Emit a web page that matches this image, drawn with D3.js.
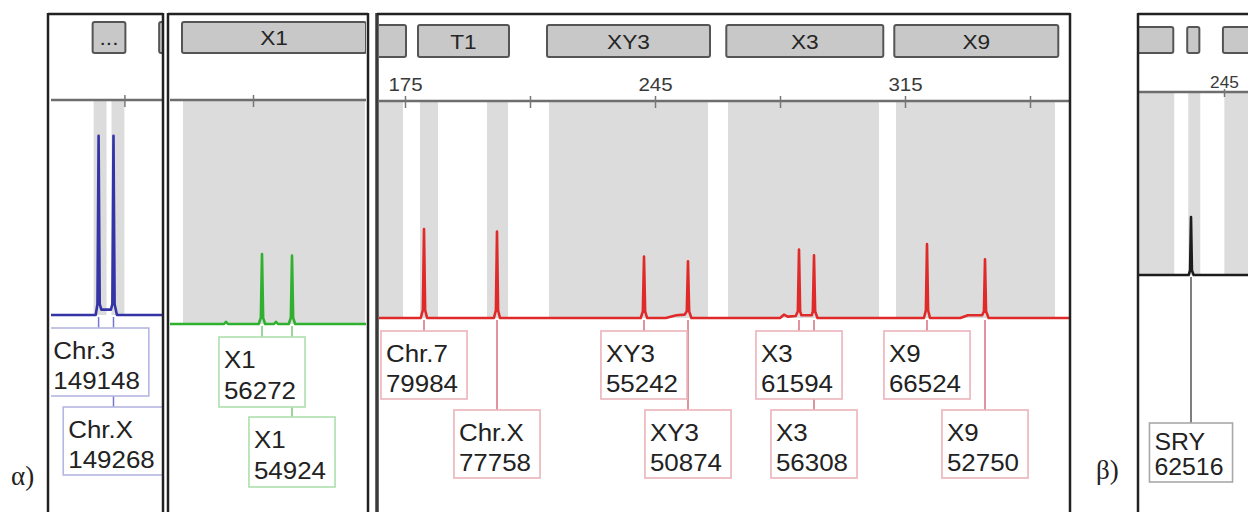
<!DOCTYPE html>
<html><head><meta charset="utf-8">
<script src="https://cdn.jsdelivr.net/npm/d3@7/dist/d3.min.js"></script>
<style>html,body{margin:0;padding:0;background:#fff}svg{display:block}</style>
</head><body>
<svg id="c" width="1248" height="512"></svg>
<script>
// ================= DATA =================
// x domains (bp) visible in each panel
const blueDomain  = [119.3, 150.6];
const greenDomain = [116.76, 171.64];
const redDomain   = [167.72, 360.92];
const blackDomain = [221.2, 251.72];

// y maxima (RFU) of each panel's plot area
const blueYMax = 179000, greenYMax = 180000, redYMax = 195000, blackYMax = 197000;

// axis ticks (bp) and labelled ticks
const blueTicks  = [140];
const greenTicks = [140];
const redTicks   = [175, 210, 245, 280, 315, 350];
const blackTicks = [245];
const labelledTicks = [35, 105, 175, 245, 315];

// marker bin buttons [start, end] and names
const blueBins  = [[131.04, 140.28], [149.8, 160]];
const blueBinNames = ["...", ""];
const greenBins = [[120.12, 171.64]];
const greenBinNames = ["X1"];
const redBins   = [[160, 175.28], [178.64, 204.12], [214.76, 260.4], [264.96, 308.92], [312.0, 357.92]];
const redBinNames = ["", "T1", "XY3", "X3", "X9"];
const blackBins = [[215, 230.8], [234.7, 238.1], [244.7, 262]];
const blackBinNames = ["", "", ""];

// grey allele bands [start, end] bp
const blueBands  = [[131.32, 134.96], [136.36, 140.0]];
const greenBands = [[120.4, 171.36]];
const redBands   = [[160, 174.44], [179.2, 184.24], [197.96, 203.84], [215.32, 259.84], [265.44, 307.72], [312.48, 357.0]];
const blackBands = [[215, 231.08], [235.0, 238.36], [245.1, 262]];

// traces: [bp, RFU]
const blueTrace = [[119.3,0],[131.9,0],[132.4,9000],[132.72,149148],[133.04,9000],[133.5,4500],[136.2,4500],[136.6,9000],[136.92,149268],[137.24,9000],[137.9,0],[150.6,0]];
const greenTrace = [[116.76,0],[131.9,0],[132.44,1800],[133.0,0],[141.6,0],[142.2,5000],[142.52,56272],[142.84,5000],[143.4,0],[145.9,0],[146.44,1800],[147.0,0],[150.0,0],[150.6,5000],[150.92,54924],[151.24,5000],[151.8,0],[171.64,0]];
const redTrace = [[167.72,0],
  [179.4,0],[180.0,7000],[180.32,79984],[180.64,7000],[181.2,0],
  [199.9,0],[200.45,7000],[200.76,77758],[201.07,7000],[201.6,0],
  [241.0,0],[241.6,6000],[241.92,55242],[242.24,6000],[242.8,0],
  [248.0,0],[251.0,2500],[253.3,3000],[253.9,6000],[254.24,50874],[254.56,6000],[255.2,0],
  [280.0,0],[281.1,3000],[282.2,1200],[284.4,1800],[285.0,6000],[285.32,61594],[285.64,6000],[286.0,2500],[288.9,2500],[289.2,6000],[289.52,56308],[289.84,6000],[290.5,0],
  [320.3,0],[320.85,7000],[321.16,66524],[321.47,7000],[322.0,0],
  [330.5,0],[332.6,2500],[336.6,2500],[337.1,6000],[337.4,52750],[337.7,6000],[338.4,0],
  [360.92,0]];
const blackTrace = [[221.2,0],[235.1,0],[235.5,5000],[235.76,62516],[236.02,5000],[236.5,0],[251.72,0]];

// called peaks
const bluePeaks = [132.72, 136.92];
const blueMarkers = ["Chr.3", "Chr.X"];
const blueValues = [149148, 149268];
const blueRows = [0, 1];
const greenPeaks = [142.52, 150.92];
const greenMarkers = ["X1", "X1"];
const greenValues = [56272, 54924];
const greenRows = [0, 1];
const redPeaks = [180.32, 200.76, 241.92, 254.24, 285.32, 289.52, 321.16, 337.4];
const redMarkers = ["Chr.7", "Chr.X", "XY3", "XY3", "X3", "X3", "X9", "X9"];
const redValues = [79984, 77758, 55242, 50874, 61594, 56308, 66524, 52750];
const redRows = [0, 1, 0, 1, 0, 1, 0, 1];
const blackPeaks = [235.76];
const blackMarkers = ["SRY"];
const blackValues = [62516];
const blackRows = [0];

const panelTags = ["α)", "β)"];

// ================= LAYOUT / STYLE =================
const FONT = '"Liberation Sans", Arial, Helvetica, sans-serif';
const SX = 1.08;
const svg = d3.select("#c");

const panels = [
  {id:"p1", frame:[48,163], inner:[51,162], domain:blueDomain, yMax:blueYMax, axisY:100, baseY:315,
   ticks:blueTicks, bins:blueBins, binNames:blueBinNames, bands:blueBands, trace:blueTrace,
   peaks:bluePeaks, markers:blueMarkers, values:blueValues, rows:blueRows,
   color:"#3434a6", boxStroke:"#b6b6e4", connStroke:"#7878cc", btnY:[22,53],
   rowTop:[13,92], boxH:68, lines:[31,61], labelFont:24, tickFont:19, tickOff:7, tickSize:12, tickPad:5},
  {id:"p2", frame:[168,368], inner:[170,366], domain:greenDomain, yMax:greenYMax, axisY:100, baseY:324,
   ticks:greenTicks, bins:greenBins, binNames:greenBinNames, bands:greenBands, trace:greenTrace,
   peaks:greenPeaks, markers:greenMarkers, values:greenValues, rows:greenRows,
   color:"#2fb02f", boxStroke:"#ade0ad", connStroke:"#78c878", btnY:[22,53],
   rowTop:[13,93], boxH:70, lines:[31,62], labelFont:24, tickFont:19, tickOff:7, tickSize:12, tickPad:5},
  {id:"p3", frame:[377,1070], inner:[379,1069], domain:redDomain, yMax:redYMax, axisY:101, baseY:318,
   ticks:redTicks, bins:redBins, binNames:redBinNames, bands:redBands, trace:redTrace,
   peaks:redPeaks, markers:redMarkers, values:redValues, rows:redRows,
   color:"#e02a2a", boxStroke:"#ebb3bb", connStroke:"#d8707e", btnY:[25,57],
   rowTop:[13,92], boxH:68, lines:[31,61], labelFont:24, tickFont:19, tickOff:7, tickSize:12, tickPad:5},
  {id:"p4", frame:[1138,1260], inner:[1139,1248], domain:blackDomain, yMax:blackYMax, axisY:92, baseY:275,
   ticks:blackTicks, bins:blackBins, binNames:blackBinNames, bands:blackBands, trace:blackTrace,
   peaks:blackPeaks, markers:blackMarkers, values:blackValues, rows:blackRows,
   color:"#1c1c1c", boxStroke:"#a8a8a8", connStroke:"#555", btnY:[27,53],
   rowTop:[148,148], boxH:59, lines:[27,52], labelFont:23, tickFont:16, tickOff:5, tickSize:8, tickPad:1}
];

const defs = svg.append("defs");

panels.forEach(p => {
  const x = d3.scaleLinear().domain(p.domain).range(p.inner);
  const y = d3.scaleLinear().domain([0, p.yMax]).range([p.baseY, p.axisY]);

  defs.append("clipPath").attr("id", "clip-" + p.id)
    .append("rect").attr("x", p.inner[0]).attr("y", 0)
    .attr("width", p.inner[1] - p.inner[0]).attr("height", 512);

  const g = svg.append("g").attr("clip-path", `url(#clip-${p.id})`);

  // grey bands
  g.append("g").selectAll("rect").data(p.bands).join("rect")
    .attr("x", d => x(d[0])).attr("width", d => x(d[1]) - x(d[0]))
    .attr("y", p.axisY + 1).attr("height", p.baseY - p.axisY - 1)
    .attr("fill", "#dcdcdc");

  // axis line
  g.append("line").attr("x1", p.inner[0]).attr("x2", p.inner[1])
    .attr("y1", p.axisY).attr("y2", p.axisY)
    .attr("stroke", "#6e6e6e").attr("stroke-width", 2.5);

  // ticks via d3 axis
  const ax = d3.axisTop(x).tickValues(p.ticks)
    .tickSizeInner(p.tickSize).tickSizeOuter(0).tickPadding(p.tickPad)
    .tickFormat(d => labelledTicks.includes(d) ? String(d) : "");
  const ag = g.append("g").attr("transform", `translate(0,${p.axisY + p.tickOff})`).call(ax);
  ag.select(".domain").remove();
  ag.selectAll(".tick line").attr("stroke", "#777").attr("stroke-width", 1.5);
  ag.selectAll(".tick text").attr("fill", "#3a3a3a")
    .attr("font-family", FONT).attr("font-size", p.tickFont)
    .attr("transform", `scale(${SX},1)`);

  // bin buttons
  const bg = g.append("g").selectAll("g").data(p.bins).join("g");
  bg.append("rect")
    .attr("x", d => x(d[0])).attr("width", d => x(d[1]) - x(d[0]))
    .attr("y", p.btnY[0]).attr("height", p.btnY[1] - p.btnY[0]).attr("rx", 2)
    .attr("fill", "#c8c8c8").attr("stroke", "#555").attr("stroke-width", 2);
  bg.append("text")
    .attr("transform", d => `translate(${(x(d[0]) + x(d[1])) / 2},${(p.btnY[0] + p.btnY[1]) / 2}) scale(${SX},1)`)
    .attr("dy", "0.36em").attr("text-anchor", "middle")
    .attr("font-family", FONT).attr("font-size", 21).attr("fill", "#252525")
    .text((d, i) => p.binNames[i]);

  // trace
  const line = d3.line().x(d => x(d[0])).y(d => y(d[1]));
  g.append("path").datum(p.trace).attr("d", line)
    .attr("fill", "none").attr("stroke", p.color).attr("stroke-width", 2.6)
    .attr("stroke-linejoin", "round");

  // labels
  const labels = p.peaks.map((bp, i) => ({bp, name: p.markers[i], value: p.values[i], row: p.rows[i]}));
  // connectors
  g.append("g").selectAll("line").data(labels).join("line")
    .attr("x1", d => x(d.bp)).attr("x2", d => x(d.bp))
    .attr("y1", y(0) + 2).attr("y2", d => p.baseY + p.rowTop[d.row])
    .attr("stroke", p.connStroke).attr("stroke-width", 1.5);

  const lg = g.append("g").selectAll("g").data(labels).join("g");
  lg.each(function(d) {
    const sel = d3.select(this);
    const rect = sel.append("rect");
    const t1 = sel.append("text").text(d.name);
    const t2 = sel.append("text").text(String(d.value));
    [t1, t2].forEach(t => t.attr("font-family", FONT).attr("font-size", p.labelFont).attr("fill", "#222"));
    const tw = Math.max(t1.node().getComputedTextLength(), t2.node().getComputedTextLength()) * SX;
    const w = tw + 14;
    const left = x(d.bp) - w / 2;
    const top = p.baseY + p.rowTop[d.row];
    rect.attr("x", left).attr("y", top).attr("width", w).attr("height", p.boxH)
      .attr("fill", "#fff").attr("stroke", p.boxStroke).attr("stroke-width", 1.6);
    t1.attr("transform", `translate(${left + 5},${top + p.lines[0]}) scale(${SX},1)`);
    t2.attr("transform", `translate(${left + 5},${top + p.lines[1]}) scale(${SX},1)`);
  });

  // frame
  const fr = svg.append("g").attr("stroke", "#222").attr("fill", "none");
  fr.append("line").attr("x1", p.frame[0]).attr("x2", p.frame[0]).attr("y1", 13).attr("y2", 512)
    .attr("stroke-width", p.id === "p3" ? 3.5 : 2.5).attr("stroke", p.id === "p3" ? "#3a3a3a" : "#222");
  fr.append("line").attr("x1", p.frame[0]).attr("x2", Math.min(p.frame[1], 1248)).attr("y1", 14).attr("y2", 14)
    .attr("stroke-width", 2.5);
  if (p.frame[1] < 1248) {
    fr.append("line").attr("x1", p.frame[1]).attr("x2", p.frame[1]).attr("y1", 13).attr("y2", 512)
      .attr("stroke-width", 2.5);
  }
});

// panel tags
svg.append("g").selectAll("text").data(panelTags).join("text")
  .attr("x", (d, i) => i === 0 ? 11 : 1096)
  .attr("y", (d, i) => i === 0 ? 485 : 479)
  .attr("font-family", '"Liberation Serif", "DejaVu Serif", serif')
  .attr("font-size", 27).attr("fill", "#222")
  .text(d => d);
</script>
</body></html>
